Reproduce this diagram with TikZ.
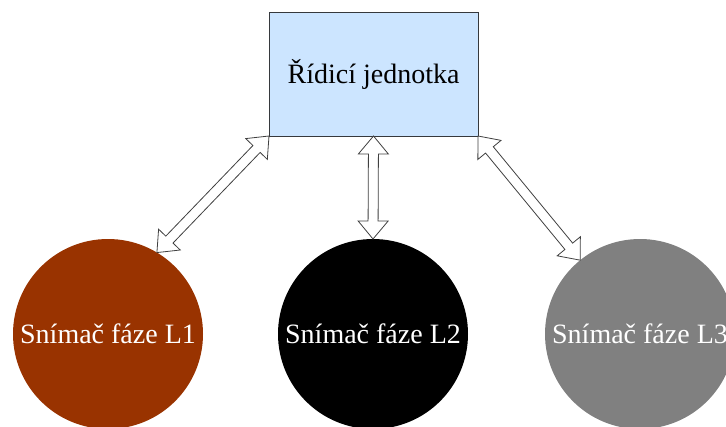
\documentclass[tikz,border=0pt]{standalone}
\usepackage{fontspec}
\setmainfont{Liberation Serif}
\usetikzlibrary{calc}
\definecolor{boxblue}{HTML}{CCE5FF}
\definecolor{boxline}{HTML}{36393D}
\definecolor{phaseone}{HTML}{993300}
\definecolor{phasethree}{HTML}{808080}
\definecolor{arrline}{HTML}{404040}
\tikzset{
  unitbox/.style={draw=boxline, line width=0.8pt, fill=boxblue, minimum width=209pt, minimum height=124pt, inner sep=0pt, outer sep=0pt, font=\fontsize{28}{33}\selectfont},
  sensor/.style={circle, draw=none, minimum size=190pt, inner sep=0pt, outer sep=0pt, text=white, font=\fontsize{28}{33}\selectfont},
  flexarr/.style={draw=arrline, line width=0.8pt, fill=white, line join=miter}
}
\newcommand{\flexarrow}[2]{%
  \coordinate (fa1) at ($(#1)!18pt!(#2)$);
  \coordinate (fa2) at ($(#2)!18pt!(#1)$);
  \draw[flexarr] (#1)
    -- ($(fa1)!15pt!90:(#2)$) -- ($(fa1)!5pt!90:(#2)$)
    -- ($(fa2)!5pt!-90:(#1)$) -- ($(fa2)!15pt!-90:(#1)$)
    -- (#2)
    -- ($(fa2)!15pt!90:(#1)$) -- ($(fa2)!5pt!90:(#1)$)
    -- ($(fa1)!5pt!-90:(#2)$) -- ($(fa1)!15pt!-90:(#2)$)
    -- cycle;}
\begin{document}
\begin{tikzpicture}[x=1pt,y=-1pt]
\useasboundingbox (0,0) rectangle (726,426);
\clip (0,0) rectangle (726,426);
\node[unitbox] (ctrl) at (373.5,74) {Řídicí jednotka};
\node[sensor, fill=phaseone] (s1) at (108,334) {Snímač fáze L1};
\node[sensor, fill=black] (s2) at (373,334) {Snímač fáze L2};
\node[sensor, fill=phasethree] (s3) at (640,334) {Snímač fáze L3};
\coordinate (c1) at (ctrl.south west);
\coordinate (c2) at (ctrl.south);
\coordinate (c3) at (ctrl.south east);
\coordinate (e1) at (s1.59);
\coordinate (e2) at (s2.north);
\coordinate (e3) at (s3.129);
\flexarrow{c1}{e1}
\flexarrow{c2}{e2}
\flexarrow{c3}{e3}
\end{tikzpicture}
\end{document}
